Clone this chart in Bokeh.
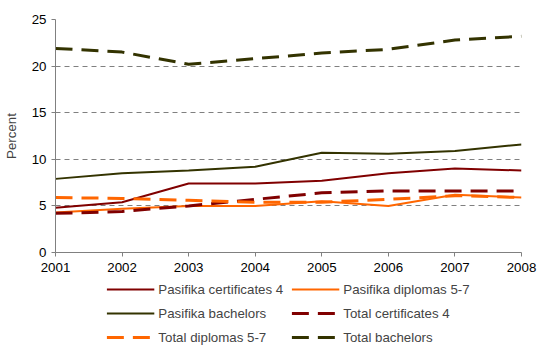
from bokeh.plotting import figure
from bokeh.layouts import column
from bokeh.models import Legend, LegendItem, FixedTicker, Range1d
from bokeh.embed import file_html
from bokeh.resources import INLINE

years = [2001, 2002, 2003, 2004, 2005, 2006, 2007, 2008]

pasifika_cert4 = [4.8, 5.4, 7.4, 7.4, 7.7, 8.5, 9.0, 8.8]
pasifika_dip57 = [4.3, 4.7, 5.0, 5.0, 5.5, 5.0, 6.2, 5.9]
pasifika_bach = [7.9, 8.5, 8.8, 9.2, 10.7, 10.6, 10.9, 11.6]
total_cert4 = [4.2, 4.4, 5.0, 5.7, 6.4, 6.6, 6.6, 6.6]
total_dip57 = [5.9, 5.8, 5.6, 5.4, 5.4, 5.7, 6.1, 5.9]
total_bach = [21.9, 21.5, 20.2, 20.8, 21.4, 21.8, 22.8, 23.2]

y_ticks = [0, 5, 10, 15, 20, 25]

FONT = "Liberation Sans"
FSIZE = "13.3px"
MAROON = "#800000"
ORANGE = "#FF6600"
OLIVE = "#333300"
GREY = "#808080"

# main chart
p = figure(width=538, height=279, output_backend="svg", toolbar_location=None,
           x_range=Range1d(2001, 2008), y_range=Range1d(0, 25),
           min_border_left=55, min_border_right=17, min_border_top=19,
           min_border_bottom=27)
p.outline_line_color = None
p.background_fill_color = "white"

p.xaxis.ticker = FixedTicker(ticks=years)
p.yaxis.ticker = FixedTicker(ticks=y_ticks)
for ax in (p.xaxis[0], p.yaxis[0]):
    ax.axis_line_color = GREY
    ax.major_tick_line_color = GREY
    ax.minor_tick_line_color = None
    ax.major_tick_in = 0
    ax.major_tick_out = 4
    ax.major_label_text_font = FONT
    ax.major_label_text_font_size = FSIZE
    ax.major_label_text_color = "black"
p.xaxis.major_label_standoff = 6
p.yaxis.axis_label = "Percent"
p.yaxis.axis_label_text_font = FONT
p.yaxis.axis_label_text_font_size = FSIZE
p.yaxis.axis_label_text_font_style = "normal"
p.yaxis.axis_label_standoff = 10

p.xgrid.grid_line_color = None
p.ygrid.grid_line_color = GREY
p.ygrid.grid_line_dash = "5 4"
p.ygrid.grid_line_width = 1

series = [
    ("Pasifika certificates 4", pasifika_cert4, MAROON, "solid", 2),
    ("Pasifika diplomas 5-7", pasifika_dip57, ORANGE, "solid", 2),
    ("Pasifika bachelors", pasifika_bach, OLIVE, "solid", 2),
    ("Total certificates 4", total_cert4, MAROON, "17 9", 3),
    ("Total diplomas 5-7", total_dip57, ORANGE, "17 9", 3),
    ("Total bachelors", total_bach, OLIVE, "17 9", 3),
]

for name, vals, color, dash, w in series:
    p.line(years, vals, line_color=color, line_width=w, line_dash=dash)

# legend strip below the chart; each swatch line sits outside the visible range
lg = figure(width=538, height=68, output_backend="svg", toolbar_location=None,
            x_range=Range1d(0, 1), y_range=Range1d(0, 1),
            x_axis_location=None, y_axis_location=None,
            min_border_left=0, min_border_right=0, min_border_top=0,
            min_border_bottom=0)
lg.outline_line_color = None
lg.grid.visible = False

items = {}
for name, vals, color, dash, w in series:
    r = lg.line([-2, -1], [-2, -1], line_color=color, line_width=w, line_dash=dash)
    items[name] = LegendItem(label=name, renderers=[r])

# legend fills column by column: left column first, then right column
legend_order = ["Pasifika certificates 4", "Pasifika bachelors", "Total diplomas 5-7",
                "Pasifika diplomas 5-7", "Total certificates 4", "Total bachelors"]

legend = Legend(items=[items[n] for n in legend_order], ncols=2, location="center",
                label_text_font=FONT, label_text_font_size=FSIZE,
                glyph_width=48, glyph_height=10, label_standoff=4,
                spacing=8, padding=0, margin=0, border_line_color=None,
                background_fill_alpha=0, label_height=16)
lg.add_layout(legend, "center")

layout = column(p, lg, spacing=0)
open("out.html", "w").write(file_html(layout, INLINE))
